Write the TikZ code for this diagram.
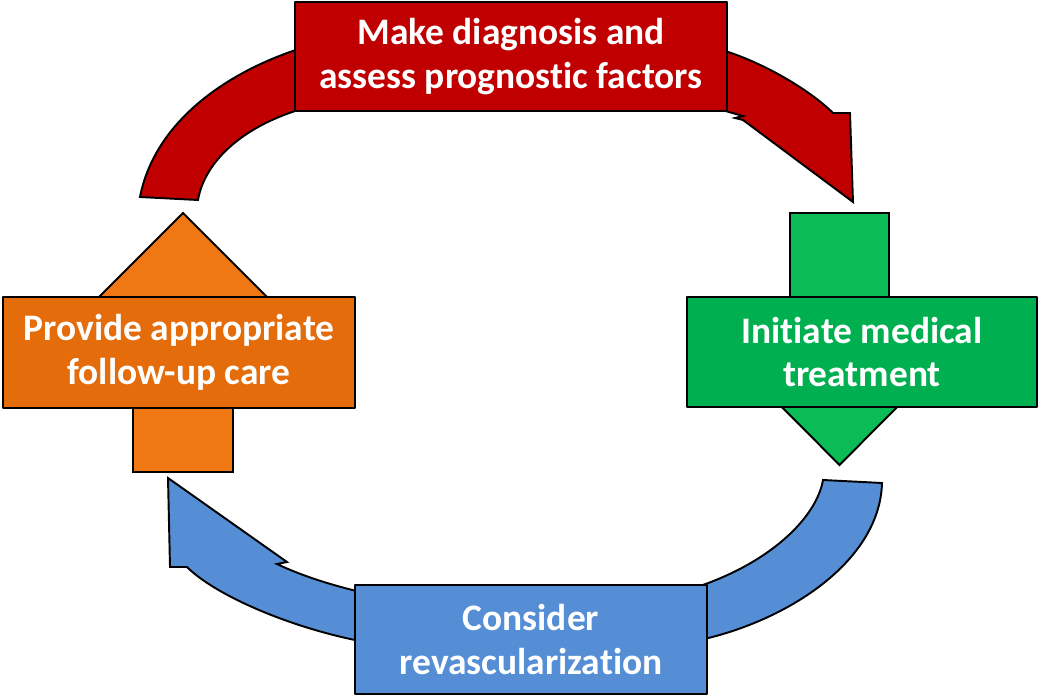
\documentclass[tikz,border=0pt]{standalone}
\usepackage{fontspec}
\setmainfont{Carlito}[Ligatures=NoCommon]
\usetikzlibrary{positioning}
\definecolor{diagred}{HTML}{C00000}
\definecolor{treatgreen}{HTML}{00B050}
\definecolor{treatgreenlt}{HTML}{0BBB56}
\definecolor{revascblue}{HTML}{558ED5}
\definecolor{followorange}{HTML}{E46C0A}
\definecolor{followorangelt}{HTML}{F07814}

\begin{document}
\begin{tikzpicture}[x=0.02cm,y=-0.02cm,line width=1.1pt,line join=round,
    stepbox/.style={draw,text=white,align=center,inner sep=0pt,outer sep=0pt,
      font=\bfseries\fontsize{21.3}{25}\selectfont},
    arc/.style={draw,line join=miter}]
    \useasboundingbox (0,0) rectangle (1039,696);

    % curved arrows round the cycle
    \filldraw[arc,fill=diagred] (140,197) .. controls (155,120) and (230,70) .. (305,47)
      -- (305,108) .. controls (245,125) and (205,160) .. (198,200) -- cycle;
    \filldraw[arc,fill=diagred] (715,48) .. controls (760,60) and (810,90) .. (833,113)
      -- (850,113) -- (853,202) -- (743,120) -- (735,118) -- (743,116) -- (715,108) -- cycle;
    \filldraw[arc,fill=revascblue] (823,480) -- (882,483)
      .. controls (880,560) and (790,620) .. (700,640) -- (700,586)
      .. controls (775,560) and (817,515) .. (823,480) -- cycle;
    \filldraw[arc,fill=revascblue] (365,642) .. controls (290,628) and (215,595) .. (187,567)
      -- (170,567) -- (168,478) -- (287,562) -- (277,564)
      .. controls (300,575) and (330,585) .. (365,593) -- cycle;

    % straight arrows behind the side boxes
    \filldraw[arc,fill=treatgreenlt] (790,213) -- (889,213) -- (889,380) -- (924,380)
      -- (839.5,465) -- (755,380) -- (790,380) -- cycle;
    \filldraw[arc,fill=followorangelt] (133,472) -- (233,472) -- (233,320) -- (290,320)
      -- (183,213) -- (76,320) -- (133,320) -- cycle;

    % the four steps
    \node[stepbox,fill=diagred,minimum width=8.64cm,minimum height=2.18cm] (diag) at (511,56.5)
      {Make diagnosis and\\assess prognostic factors};
    \node[stepbox,fill=treatgreen,minimum width=7cm,minimum height=2.2cm] (treat) at (862,352)
      {Initiate medical\\treatment};
    \node[stepbox,fill=revascblue,minimum width=7.04cm,minimum height=2.18cm] (revasc) at (531,639.5)
      {Consider\\revascularization};
    \node[stepbox,fill=followorange,minimum width=7.04cm,minimum height=2.22cm] (follow) at (179,352.5)
      {Provide appropriate\\follow-up care};
  \end{tikzpicture}
\end{document}
